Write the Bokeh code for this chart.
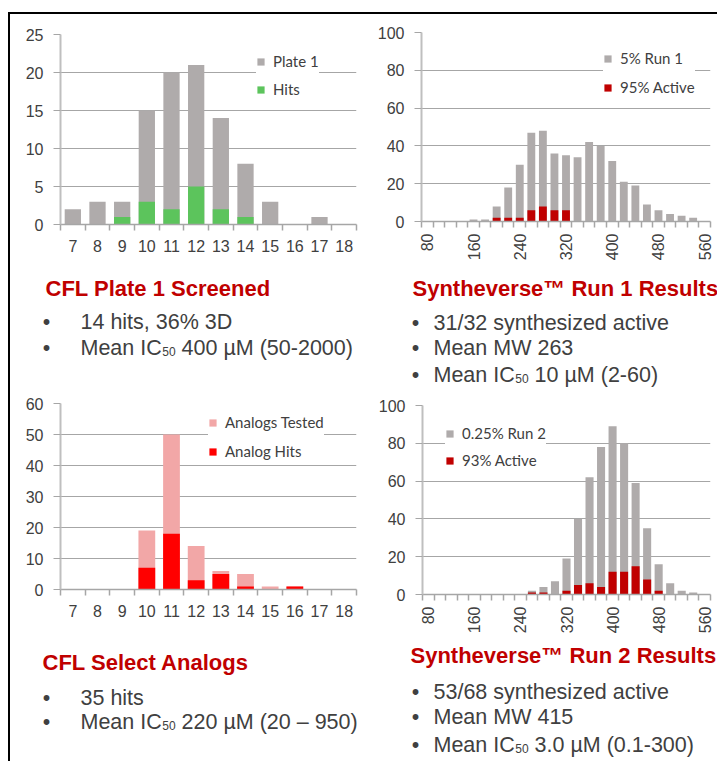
import math
from bokeh.plotting import figure
from bokeh.models import Range1d, FixedTicker, Spacer
from bokeh.layouts import row, column
from bokeh.embed import file_html
from bokeh.resources import INLINE
from bokeh.core.properties import value

# ---------------- data ----------------
size_bins = [7, 8, 9, 10, 11, 12, 13, 14, 15, 16, 17, 18]
plate1_total = [2, 3, 3, 15, 20, 21, 14, 8, 3, 0, 1, 0]
plate1_hits = [0, 0, 1, 3, 2, 5, 2, 1, 0, 0, 0, 0]
analogs_tested = [0, 0, 0, 19, 50, 14, 6, 5, 1, 1, 0, 0]
analog_hits = [0, 0, 0, 7, 18, 3, 5, 1, 0, 1, 0, 0]

mw_bins = [80, 100, 120, 140, 160, 180, 200, 220, 240, 260, 280, 300, 320,
           340, 360, 380, 400, 420, 440, 460, 480, 500, 520, 540, 560]
mw_tick_labels = [80, 160, 240, 320, 400, 480, 560]
run1_total = [0, 0, 0, 0, 1, 1, 8, 18, 30, 47, 48, 36, 35,
              34, 42, 40, 32, 21, 19, 9, 6, 4, 3, 2, 0]
run1_active = [0, 0, 0, 0, 0, 0, 2, 2, 2, 6, 8, 6, 6,
               0, 0, 0, 0, 0, 0, 0, 0, 0, 0, 0, 0]
run2_total = [0, 0, 0, 0, 0, 0, 0, 0, 0, 2, 4, 7, 19,
              40, 62, 78, 89, 80, 59, 35, 16, 6, 2, 1, 0]
run2_active = [0, 0, 0, 0, 0, 0, 0, 0, 0, 1, 1, 0, 2,
               5, 6, 4, 12, 12, 15, 8, 2, 0, 0, 0, 0]

plate_yticks = [0, 5, 10, 15, 20, 25]
analog_yticks = [0, 10, 20, 30, 40, 50, 60]
mw_yticks = [0, 20, 40, 60, 80, 100]

tl_title = "CFL Plate 1 Screened"
tl_lines = ["14 hits, 36% 3D", "Mean IC50 400 µM (50-2000)"]
tr_title = "Syntheverse™ Run 1 Results"
tr_lines = ["31/32 synthesized active", "Mean MW 263", "Mean IC50 10 µM (2-60)"]
bl_title = "CFL Select Analogs"
bl_lines = ["35 hits", "Mean IC50 220 µM (20 – 950)"]
br_title = "Syntheverse™ Run 2 Results"
br_lines = ["53/68 synthesized active", "Mean MW 415", "Mean IC50 3.0 µM (0.1-300)"]

# ---------------- style ----------------
GRAY = "#AFABAB"
GREEN = "#5CC45C"
DARKRED = "#C00000"
PINK = "#F2A7A7"
RED = "#FF0000"
TXT = "#404040"
GRID = "#A6A6A6"
FONT = "Liberation Sans"


def make_chart(bins, total, part, yticks, colors, names, w, h, mb, legend_loc,
               legend_spacing, step, shown, rotate, bar_frac):
    lo = bins[0] - step / 2
    hi = bins[-1] + step / 2
    p = figure(width=w, height=h, x_range=Range1d(lo, hi),
               y_range=Range1d(0, yticks[-1]), output_backend="svg",
               toolbar_location=None,
               min_border_left=mb[0], min_border_right=mb[1],
               min_border_top=mb[2], min_border_bottom=mb[3])
    p.frame_align = False
    p.outline_line_color = None
    p.background_fill_color = "white"
    p.border_fill_color = "white"
    p.xgrid.visible = False
    p.ygrid.grid_line_color = GRID
    p.ygrid.grid_line_width = 1

    p.vbar(x=bins, top=total, width=step * bar_frac, fill_color=colors[0],
           line_color=None, legend_label=names[0])
    p.vbar(x=bins, top=part, width=step * bar_frac, fill_color=colors[1],
           line_color=None, legend_label=names[1])

    ya = p.yaxis[0]
    ya.ticker = FixedTicker(ticks=yticks, minor_ticks=[])
    p.ygrid.ticker = FixedTicker(ticks=yticks, minor_ticks=[])
    ya.axis_line_color = "#BFBFBF"
    ya.axis_line_width = 2
    ya.major_tick_out = 7
    ya.major_tick_in = 0
    ya.major_tick_line_color = GRID
    ya.minor_tick_out = 0
    ya.minor_tick_in = 0
    ya.major_label_standoff = 10
    ya.major_label_text_font = FONT
    ya.major_label_text_font_size = "16px"
    ya.major_label_text_color = TXT

    xa = p.xaxis[0]
    boundaries = [b - step / 2 for b in bins] + [bins[-1] + step / 2]
    xa.ticker = FixedTicker(ticks=shown, minor_ticks=boundaries)
    xa.axis_line_color = GRID
    xa.axis_line_width = 1.5
    xa.major_tick_out = 0
    xa.major_tick_in = 0
    xa.major_tick_line_color = None
    xa.minor_tick_out = 6
    xa.minor_tick_in = 0
    xa.minor_tick_line_color = GRID
    xa.minor_tick_line_width = 1.5
    xa.major_label_text_font = FONT
    xa.major_label_text_font_size = "16px"
    xa.major_label_text_color = TXT
    if rotate:
        xa.major_label_orientation = math.pi / 2
        xa.major_label_standoff = 6
    else:
        xa.major_label_standoff = 9

    lg = p.legend[0]
    lg.location = legend_loc
    lg.background_fill_color = "white"
    lg.background_fill_alpha = 1
    lg.border_line_color = None
    lg.glyph_width = 9
    lg.glyph_height = 9
    lg.label_height = 18
    lg.label_standoff = 8
    lg.spacing = legend_spacing
    lg.padding = 8
    lg.margin = 0
    lg.label_text_font = "Lato"
    lg.label_text_font_size = "15px"
    lg.label_text_color = TXT
    return p


# Arial / Liberation Sans advance widths (per 1000 em)
ADV = {"M": 833, "e": 556, "a": 556, "n": 556, " ": 278, "I": 278, "C": 722}
BODY = 21.5
SUB = 12


def text_width(s, size):
    return sum(ADV.get(c, 556) for c in s) * size / 1000.0


def text_panel(w, h, title, title_x, title_y, bullet_x, text_x, ys, lines):
    p = figure(width=w, height=h, x_range=Range1d(0, w), y_range=Range1d(h, 0),
               output_backend="svg", toolbar_location=None,
               x_axis_type=None, y_axis_type=None,
               min_border_left=0, min_border_right=0,
               min_border_top=0, min_border_bottom=0)
    p.frame_align = False
    p.outline_line_color = None
    p.grid.visible = False
    p.background_fill_color = "white"
    p.border_fill_color = "white"
    p.text(x=[title_x], y=[title_y], text=[title], text_font=value(FONT),
           text_font_style="bold", text_font_size="22px", text_color=DARKRED,
           text_baseline="middle", text_align="left")
    for y, line in zip(ys, lines):
        base = y - 1
        p.text(x=[bullet_x], y=[base], text=["•"], text_font=value(FONT),
               text_font_size=f"{BODY}px", text_color=TXT,
               text_baseline="alphabetic", text_align="center")
        if "IC50" in line:
            pre, post = line.split("IC50")
            pre = pre + "IC"
            post = post.strip()
            w1 = text_width(pre, BODY)
            xs = text_x + w1 + 0.5
            p.text(x=[text_x], y=[base], text=[pre], text_font=value(FONT),
                   text_font_size=f"{BODY}px", text_color=TXT,
                   text_baseline="alphabetic", text_align="left")
            p.text(x=[xs], y=[base + 4], text=["50"], text_font=value(FONT),
                   text_font_size=f"{SUB}px", text_color=TXT,
                   text_baseline="alphabetic", text_align="left")
            p.text(x=[xs + 1.112 * SUB + 0.278 * BODY], y=[base], text=[post],
                   text_font=value(FONT), text_font_size=f"{BODY}px", text_color=TXT,
                   text_baseline="alphabetic", text_align="left")
        else:
            p.text(x=[text_x], y=[base], text=[line], text_font=value(FONT),
                   text_font_size=f"{BODY}px", text_color=TXT,
                   text_baseline="alphabetic", text_align="left")
    return p


mw_shown = [b for b in mw_bins if b in mw_tick_labels]

# left column: x 10..360 ; right column: x 360..717 ; content top y=14
tl = make_chart(size_bins, plate1_total, plate1_hits, plate_yticks, [GRAY, GREEN],
                ["Plate 1", "Hits"], 350, 250, (50, 4, 20, 40), (196, 126), 10,
                1, size_bins, False, 0.66)
tr = make_chart(mw_bins, run1_total, run1_active, mw_yticks, [GRAY, DARKRED],
                ["5% Run 1", "95% Active"], 357, 254, (61, 7, 18, 47), (182, 125), 11,
                20, mw_shown, True, 0.68)
bl = make_chart(size_bins, analogs_tested, analog_hits, analog_yticks, [PINK, RED],
                ["Analogs Tested", "Analog Hits"], 350, 232, (50, 4, 10, 36), (148, 129), 11,
                1, size_bins, False, 0.68)
br = make_chart(mw_bins, run2_total, run2_active, mw_yticks, [GRAY, DARKRED],
                ["0.25% Run 2", "93% Active"], 357, 248, (62, 7, 13, 46), (23, 125), 9,
                20, mw_shown, True, 0.7)

tlt = text_panel(350, 129, tl_title, 35, 24, 36, 70, [58, 84], tl_lines)
trt = text_panel(357, 124, tr_title, 52, 20, 55, 73, [55, 80, 107], tr_lines)
blt = text_panel(350, 136, bl_title, 32, 37, 36, 70, [73, 97], bl_lines)
brt = text_panel(357, 121, br_title, 50, 15, 55, 73, [52, 77, 105], br_lines)

left_col = column(tl, tlt, bl, blt, spacing=0)
right_col = column(tr, trt, br, brt, spacing=0)
left_bar = Spacer(width=2, height=747, styles={"background-color": "#000000"})
top_bar = Spacer(width=709, height=2, styles={"background-color": "#000000"})
framed = column(top_bar, row(left_bar, left_col, right_col, spacing=0), spacing=0)
page = column(Spacer(width=717, height=12),
              row(Spacer(width=8, height=749), framed, spacing=0), spacing=0)

open("out.html", "w").write(file_html(page, INLINE))
